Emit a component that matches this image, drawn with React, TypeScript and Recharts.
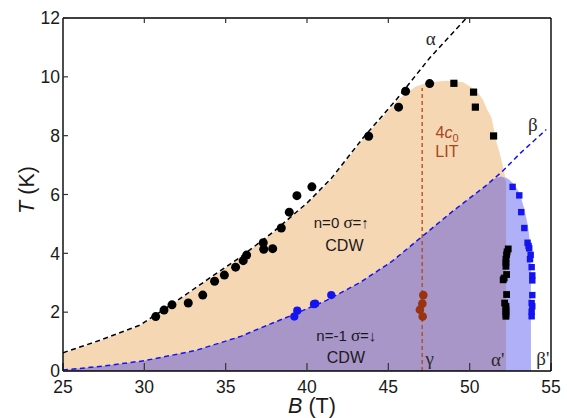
import React from 'react';
import { ComposedChart, Area, Line, Scatter, XAxis, YAxis, ReferenceDot } from 'recharts';

type Pt = [number, number];

// ---- tick values ----
const xTicks = [25, 30, 35, 40, 45, 50, 55];
const yTicks = [0, 2, 4, 6, 8, 10, 12];
const topTicks = [30, 35, 40, 45, 50];
const rightTicks = [2, 4, 6, 8, 10];

// ---- fitted / guide curves ----
const alphaFit: Pt[] = [
  [25, 0.62], [27.3, 1.05], [29.73, 1.56], [31.78, 2.3], [33.83, 3.09], [35.88, 3.86],
  [37.93, 4.73], [39.98, 5.7], [41.5, 6.55], [43.44, 7.92], [45.49, 9.22], [47.54, 10.64], [49.8, 12.0],
];
const betaFit: Pt[] = [
  [25, 0.03], [27.5, 0.17], [30, 0.35], [33.1, 0.69], [35.9, 1.17], [37.09, 1.45], [39, 1.88],
  [41.2, 2.4], [43.3, 3.02], [45.28, 3.75], [47.07, 4.57], [49.0, 5.45], [51.0, 6.3], [52.0, 6.78],
  [53.07, 7.38], [54.71, 8.21],
];

// ---- shaded phase regions (upper edges) ----
const orangeEdge: Pt[] = [
  [25, 0.6], [27.3, 1.03], [29.73, 1.54], [31.78, 2.28], [33.83, 3.07], [35.88, 3.84], [37.93, 4.71],
  [39.98, 5.68], [41.5, 6.5], [43.44, 7.88], [45.49, 9.15], [46.1, 9.45], [46.72, 9.68], [47.54, 9.82],
  [48.57, 9.87], [49.6, 9.82], [50.22, 9.6], [50.6, 9.4], [50.83, 9.2], [51.02, 8.95], [51.35, 8.6],
  [51.64, 7.8], [51.85, 7.4], [52.05, 6.94], [52.2, 6.55], [52.2, 0],
];
const lightBlueEdge: Pt[] = [
  [51.95, 6.6], [52.21, 6.58], [52.45, 6.5], [52.66, 6.38], [52.9, 6.2], [53.07, 6.04], [53.38, 5.47],
  [53.59, 4.9], [53.72, 4.3], [53.76, 3.77], [53.77, 0],
];
const purpleEdge: Pt[] = [
  [25, 0.03], [27.5, 0.17], [30, 0.35], [33.1, 0.69], [35.9, 1.17], [37.09, 1.45], [39, 1.88],
  [41.2, 2.4], [43.3, 3.02], [45.28, 3.75], [47.07, 4.57], [49.0, 5.45], [51.0, 6.3], [51.3, 6.45],
  [51.6, 6.56], [51.95, 6.61], [52.12, 6.56], [52.24, 6.45], [52.24, 0],
];
const gammaLine: Pt[] = [[47.08, 0], [47.08, 9.62]];

// ---- measured points ----
const alphaCircles: Pt[] = [
  [30.7, 1.85], [31.21, 2.07], [31.7, 2.25], [32.7, 2.31], [33.59, 2.58], [34.32, 3.05], [34.92, 3.26],
  [35.61, 3.53], [36.08, 3.75], [36.29, 3.94], [37.31, 4.36], [37.34, 4.14], [37.89, 4.16], [38.42, 4.86],
  [38.91, 5.4], [39.38, 5.96], [40.3, 6.26], [43.79, 7.98], [45.63, 8.97], [46.06, 9.51], [47.54, 9.77],
];
const upperSquares: Pt[] = [[49.03, 9.78], [50.24, 9.48], [50.35, 8.97], [51.47, 7.99]];
const alphaPrimeSquares: Pt[] = [
  [52.37, 4.15], [52.3, 4.05], [52.27, 3.95], [52.23, 3.8], [52.23, 3.68], [52.23, 3.56], [52.27, 3.28],
  [52.06, 3.1], [52.12, 3.16], [52.27, 2.6], [52.15, 2.31], [52.23, 2.2], [52.23, 2.1], [52.23, 2.02],
  [52.23, 1.94], [52.23, 1.86],
];
const betaPrimeSquares: Pt[] = [
  [52.64, 6.26], [53.05, 5.97], [53.17, 5.4], [53.36, 4.86], [53.56, 4.36], [53.62, 4.25], [53.66, 4.17],
  [53.75, 3.95], [53.71, 3.8], [53.81, 3.53], [53.85, 3.25], [53.85, 3.08], [53.85, 2.58], [53.81, 2.31],
  [53.85, 2.2], [53.81, 2.02], [53.81, 1.86],
];
const betaCircles: Pt[] = [[39.22, 1.85], [39.4, 2.05], [40.43, 2.27], [40.5, 2.29], [41.49, 2.58]];
const gammaCircles: Pt[] = [[47.15, 2.58], [47.09, 2.29], [46.94, 2.08], [47.11, 1.85]];

// ---- annotations (data coords of text centre / baseline) ----
const annotations = [
  { x: 47.61, y: 11.07, kind: 'greek', text: 'α' },
  { x: 53.89, y: 8.15, kind: 'greek', text: 'β' },
  { x: 47.54, y: 0.22, kind: 'greek', text: 'γ' },
  { x: 51.72, y: 0.17, kind: 'greek', text: "α'" },
  { x: 54.5, y: 0.19, kind: 'greek', text: "β'" },
  { x: 48.61, y: 7.92, kind: 'c0', text: '4c0' },
  { x: 48.6, y: 7.26, kind: 'brown', text: 'LIT' },
  { x: 42.11, y: 4.87, kind: 'sigmaUp', text: 'n=0 σ=↑' },
  { x: 42.3, y: 4.09, kind: 'plain', text: 'CDW' },
  { x: 42.42, y: 1.02, kind: 'sigmaDown', text: 'n=-1 σ=↓' },
  { x: 42.39, y: 0.26, kind: 'plain', text: 'CDW' },
];

const SANS = "'Liberation Sans', Arial, Helvetica, sans-serif";
const SERIF = "'Liberation Serif', 'Times New Roman', serif";
const BROWN_TEXT = '#A8461C';
const BROWN = '#B04A16';
const BROWN_DOT = '#9A3310';
const BLUE = '#1414F0';

const keys = ['orange', 'lightBlue', 'purple', 'alphaFit', 'betaFit', 'gamma'] as const;
const sources: Record<string, Pt[]> = {
  orange: orangeEdge,
  lightBlue: lightBlueEdge,
  purple: purpleEdge,
  alphaFit,
  betaFit,
  gamma: gammaLine,
};
const tableRows: any[] = [];
keys.forEach((k) => sources[k].forEach(([x, y]) => tableRows.push({ x, [k]: y })));
tableRows.sort((a, b) => a.x - b.x);

const toObjs = (pts: Pt[]) => pts.map(([x, y]) => ({ x, y }));

const circle = (r: number, fill: string) => (p: any) =>
  <circle cx={p.cx} cy={p.cy} r={r} fill={fill} />;
const square = (s: number, fill: string) => (p: any) =>
  <rect x={p.cx - s / 2} y={p.cy - s / 2} width={s} height={s} fill={fill} />;

function AnnText(props: any) {
  const { viewBox, a } = props;
  const cx = viewBox.x + (viewBox.width || 0) / 2;
  const cy = viewBox.y + (viewBox.height || 0) / 2;
  const common = { x: cx, y: cy, textAnchor: 'middle' as const };
  switch (a.kind) {
    case 'greek':
      return <text {...common} fontFamily={SERIF} fontSize={19} fill="#2a2a2a">{a.text}</text>;
    case 'c0':
      return (
        <text {...common} fontFamily={SANS} fontSize={16} fill={BROWN_TEXT}>
          4<tspan fontStyle="italic">c</tspan><tspan fontSize={11} dy={4}>0</tspan>
        </text>
      );
    case 'brown':
      return <text {...common} fontFamily={SANS} fontSize={16} fill={BROWN_TEXT}>{a.text}</text>;
    case 'sigmaUp':
      return (
        <text {...common} fontFamily={SANS} fontSize={15} fill="#1a1a1a">
          n=0 <tspan fontFamily={SERIF} fontSize={17}>σ</tspan>=↑
        </text>
      );
    case 'sigmaDown':
      return (
        <text {...common} fontFamily={SANS} fontSize={15} fill="#1a1a1a">
          n=-1 <tspan fontFamily={SERIF} fontSize={17}>σ</tspan>=↓
        </text>
      );
    default:
      return <text {...common} fontFamily={SANS} fontSize={16} fill="#1a1a1a">{a.text}</text>;
  }
}

function XLabel(props: any) {
  const vb = props.viewBox;
  return (
    <text x={vb.x + vb.width / 2 + 5} y={412.5} textAnchor="middle" fontFamily={SANS} fontSize={21.5} fill="#1a1a1a">
      <tspan fontStyle="italic">B</tspan> (T)
    </text>
  );
}
function YLabel() {
  return (
    <text x={34} y={190} transform="rotate(-90 34 190)" textAnchor="middle" fontFamily={SANS} fontSize={21.5} fill="#1a1a1a">
      <tspan fontStyle="italic">T</tspan> (K)
    </text>
  );
}

const tickStyle = { fontSize: 17.5, fill: '#1a1a1a', fontFamily: SANS };
const blank = () => '';

export default function App() {
  return (
    <div style={{ position: 'absolute', left: 0, top: 0, width: 567, height: 418, background: '#fff' }}>
      <ComposedChart width={567} height={418} data={tableRows} margin={{ top: 0, right: 0, bottom: 0, left: 0 }}>
        <XAxis
          dataKey="x" type="number" domain={[25, 55]} ticks={xTicks} allowDataOverflow
          height={47} tick={tickStyle} tickSize={-8} tickMargin={18}
          axisLine={{ stroke: '#000', strokeWidth: 1.4 }} tickLine={{ stroke: '#333', strokeWidth: 1.2 }}
          label={<XLabel />}
        />
        <XAxis
          xAxisId="t" orientation="top" dataKey="x" type="number" domain={[25, 55]} ticks={topTicks}
          height={18} tickFormatter={blank} tickSize={-5} tick={tickStyle}
          axisLine={{ stroke: '#000', strokeWidth: 1.4 }} tickLine={{ stroke: '#333', strokeWidth: 1.2 }}
        />
        <YAxis
          type="number" domain={[0, 12]} ticks={yTicks} allowDataOverflow width={63}
          tick={tickStyle} tickSize={-5} tickMargin={8}
          axisLine={{ stroke: '#000', strokeWidth: 1.4 }} tickLine={{ stroke: '#333', strokeWidth: 1.2 }}
          label={<YLabel />}
        />
        <YAxis
          yAxisId="r" orientation="right" type="number" domain={[0, 12]} ticks={rightTicks} width={16}
          tickFormatter={blank} tickSize={-12} tick={tickStyle}
          axisLine={{ stroke: '#000', strokeWidth: 1.4 }} tickLine={{ stroke: '#555', strokeWidth: 1.2 }}
        />

        <Area dataKey="orange" type="linear" connectNulls stroke="none" fill="#F6D7B4" fillOpacity={1} isAnimationActive={false} dot={false} activeDot={false} />
        <Area dataKey="lightBlue" type="linear" connectNulls stroke="none" fill="#B0B0F9" fillOpacity={1} isAnimationActive={false} dot={false} activeDot={false} />
        <Area dataKey="purple" type="linear" connectNulls stroke="none" fill="#A896C9" fillOpacity={1} isAnimationActive={false} dot={false} activeDot={false} />

        <Line dataKey="alphaFit" type="linear" connectNulls stroke="#000" strokeWidth={1.5} strokeDasharray="5 3.5" dot={false} activeDot={false} isAnimationActive={false} />
        <Line dataKey="betaFit" type="linear" connectNulls stroke={BLUE} strokeWidth={1.5} strokeDasharray="5 3.5" dot={false} activeDot={false} isAnimationActive={false} />
        <Line dataKey="gamma" type="linear" connectNulls stroke={BROWN} strokeWidth={1.3} strokeDasharray="4 3" dot={false} activeDot={false} isAnimationActive={false} />

        <Scatter data={toObjs(alphaCircles)} dataKey="y" shape={circle(4.5, '#000')} isAnimationActive={false} />
        <Scatter data={toObjs(upperSquares)} dataKey="y" shape={square(7.2, '#000')} isAnimationActive={false} />
        <Scatter data={toObjs(alphaPrimeSquares)} dataKey="y" shape={square(6.8, '#000')} isAnimationActive={false} />
        <Scatter data={toObjs(betaPrimeSquares)} dataKey="y" shape={square(6.4, BLUE)} isAnimationActive={false} />
        <Scatter data={toObjs(betaCircles)} dataKey="y" shape={circle(4.1, BLUE)} isAnimationActive={false} />
        <Scatter data={toObjs(gammaCircles)} dataKey="y" shape={circle(4.3, BROWN_DOT)} isAnimationActive={false} />

        {annotations.map((a, i) => (
          <ReferenceDot key={i} x={a.x} y={a.y} r={0} fill="none" stroke="none" ifOverflow="visible"
            label={<AnnText a={a} />} />
        ))}
      </ComposedChart>
    </div>
  );
}
